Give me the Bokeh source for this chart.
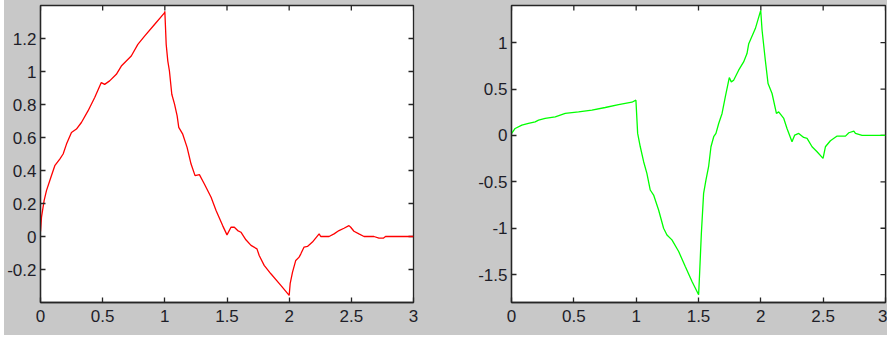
from bokeh.plotting import figure
from bokeh.layouts import row
from bokeh.models import FixedTicker, CustomJSTickFormatter, Range1d
from bokeh.embed import file_html
from bokeh.resources import INLINE

# ---- data ----
t_red = [0.0, 0.008, 0.029, 0.048, 0.083, 0.115, 0.155, 0.182, 0.209, 0.249, 0.289, 0.329,
         0.382, 0.436, 0.489, 0.516, 0.556, 0.610, 0.650, 0.730, 0.783, 0.837, 0.917, 0.997,
         1.0, 1.011, 1.024, 1.037, 1.056, 1.078, 1.099, 1.112, 1.144, 1.179, 1.211, 1.243,
         1.278, 1.318, 1.372, 1.412, 1.465, 1.500, 1.532, 1.559, 1.586, 1.612, 1.652, 1.693,
         1.741, 1.759, 1.799, 1.853, 1.933, 2.000, 2.008, 2.027, 2.053, 2.080, 2.094, 2.120,
         2.147, 2.187, 2.241, 2.254, 2.321, 2.361, 2.401, 2.441, 2.481, 2.495, 2.521, 2.561,
         2.602, 2.682, 2.722, 2.757, 2.775, 3.0]
v_red = [0.03, 0.117, 0.218, 0.278, 0.358, 0.429, 0.469, 0.500, 0.560, 0.630, 0.651, 0.691,
         0.761, 0.842, 0.933, 0.922, 0.943, 0.983, 1.033, 1.094, 1.164, 1.214, 1.285, 1.355,
         1.365, 1.164, 1.063, 1.003, 0.862, 0.802, 0.731, 0.661, 0.620, 0.540, 0.439, 0.369,
         0.375, 0.318, 0.238, 0.157, 0.066, 0.010, 0.056, 0.056, 0.036, 0.026, -0.020, -0.054,
         -0.075, -0.115, -0.175, -0.226, -0.296, -0.357, -0.286, -0.216, -0.145, -0.125, -0.105, -0.064,
         -0.060, -0.034, 0.016, 0.0, 0.0, 0.016, 0.036, 0.050, 0.066, 0.056, 0.032, 0.016,
         0.0, 0.0, -0.010, -0.010, 0.0, 0.0]

t_green = [0.0, 0.029, 0.083, 0.136, 0.19, 0.217, 0.270, 0.351, 0.431, 0.538, 0.645, 0.752,
           0.859, 0.966, 0.998, 1.012, 1.033, 1.060, 1.086, 1.113, 1.140, 1.180, 1.220, 1.247,
           1.287, 1.341, 1.394, 1.448, 1.501, 1.509, 1.523, 1.541, 1.560, 1.581, 1.600, 1.622,
           1.640, 1.662, 1.689, 1.715, 1.747, 1.763, 1.782, 1.822, 1.862, 1.889, 1.903, 1.956,
           1.999, 2.010, 2.036, 2.058, 2.090, 2.125, 2.143, 2.184, 2.210, 2.250, 2.272, 2.304,
           2.344, 2.371, 2.411, 2.451, 2.499, 2.518, 2.558, 2.612, 2.679, 2.706, 2.746, 2.759,
           2.812, 3.0]
v_green = [0.02, 0.075, 0.111, 0.129, 0.147, 0.165, 0.183, 0.201, 0.237, 0.254, 0.272, 0.301,
           0.333, 0.358, 0.380, 0.022, -0.122, -0.283, -0.409, -0.588, -0.642, -0.803, -1.0, -1.072,
           -1.125, -1.251, -1.412, -1.573, -1.717, -1.484, -1.054, -0.624, -0.480, -0.337, -0.122, -0.014,
           0.022, 0.129, 0.237, 0.416, 0.624, 0.577, 0.595, 0.703, 0.792, 0.882, 0.989, 1.151,
           1.348, 1.133, 0.810, 0.559, 0.452, 0.237, 0.254, 0.183, 0.075, -0.068, 0.004, 0.022,
           -0.022, -0.032, -0.122, -0.176, -0.247, -0.122, -0.057, -0.007, -0.007, 0.029, 0.047, 0.022,
           0.0, 0.0]

x_ticks = [0, 0.5, 1, 1.5, 2, 2.5, 3]
y_ticks_left = [-0.2, 0, 0.2, 0.4, 0.6, 0.8, 1.0, 1.2]
y_ticks_right = [-1.5, -1, -0.5, 0, 0.5, 1]

GRAY = "#c8c8c8"
AX = "#262626"
FONT = "Liberation Sans"
FS = "17px"

fmt_code = "var s = tick.toFixed(2); s = s.replace(/0+$/, ''); s = s.replace(/\\.$/, ''); if (s == '-0') s = '0'; return s;"


def style_axis(ax, ticks, standoff):
    ax.ticker = FixedTicker(ticks=ticks)
    ax.minor_tick_line_color = None
    ax.major_tick_in = 5
    ax.major_tick_out = 0
    ax.axis_line_color = AX
    ax.axis_line_width = 1.3
    ax.major_tick_line_color = AX
    ax.major_tick_line_width = 1.3
    ax.formatter = CustomJSTickFormatter(code=fmt_code)
    ax.major_label_text_font = FONT
    ax.major_label_text_font_size = FS
    ax.major_label_text_color = "#1e1e28"
    ax.major_label_standoff = standoff


def make_fig(w, h, yr, left, right, top, bottom, yticks, xs, ys, color):
    p = figure(width=w, height=h, output_backend="svg", toolbar_location=None,
               x_range=Range1d(0, 3), y_range=Range1d(*yr),
               min_border_left=left, min_border_right=right,
               min_border_top=top, min_border_bottom=bottom,
               background_fill_color="white", border_fill_color=GRAY,
               outline_line_color=AX, outline_line_width=1.3)
    p.grid.visible = False
    style_axis(p.xaxis[0], x_ticks, 7)
    style_axis(p.yaxis[0], yticks, 4)
    # inward ticks on the top and right edges of the box
    p.ray(x=x_ticks, y=[yr[1]] * len(x_ticks), length=5, length_units="screen",
          angle=-90, angle_units="deg", line_color=AX, line_width=1.3)
    p.ray(x=[3] * len(yticks), y=yticks, length=5, length_units="screen",
          angle=180, angle_units="deg", line_color=AX, line_width=1.3)
    p.line(xs, ys, line_color=color, line_width=1.3)
    return p


p1 = make_fig(456, 335, (-0.4, 1.4), 35, 47, 4, 33, y_ticks_left, t_red, v_red, "#ff0000")
p2 = make_fig(427, 335, (-1.8, 1.4), 51, 2, 5, 33, y_ticks_right, t_green, v_green, "#00ff00")

layout = row(p1, p2, spacing=0, margin=(0, 0, 0, 4),
             styles={"background-color": GRAY})

open("out.html", "w").write(file_html(layout, INLINE))
